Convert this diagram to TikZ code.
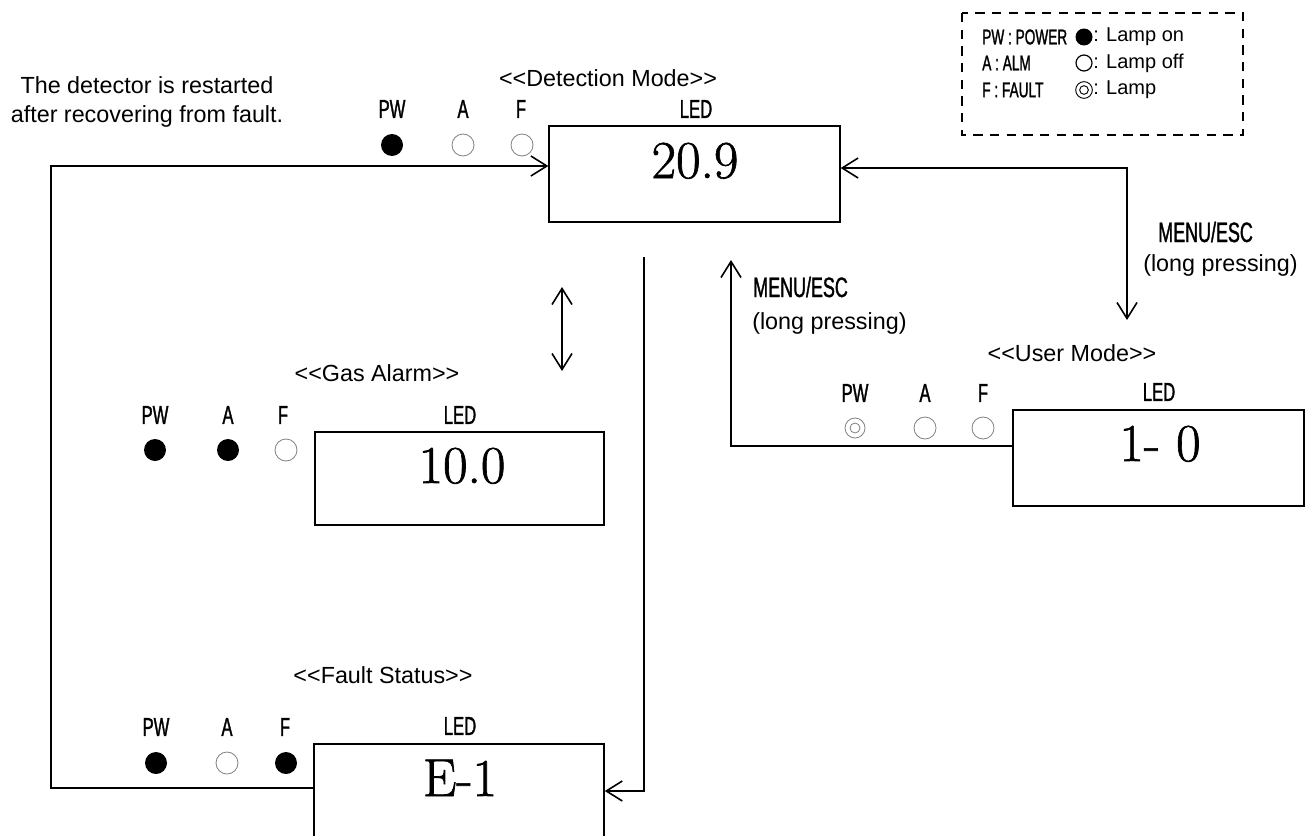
\documentclass[tikz,border=0pt]{standalone}
\usepackage{fontspec}
\setsansfont{Liberation Sans}
\newfontfamily\narrowfont[FakeStretch=0.64,FakeBold=1.2]{Liberation Sans}
\newfontfamily\digitfont[FakeBold=1.2]{Latin Modern Roman}
\usetikzlibrary{arrows.meta}
\newcommand{\modetitle}[1]{<\kern0pt<#1>\kern0pt>}

\begin{document}
\begin{tikzpicture}[x=0.75pt, y=-0.75pt,
  every node/.style={inner sep=0pt},
  >={Straight Barb[length=12pt,width=15pt]},
  tag/.style={font=\narrowfont\fontsize{19.5}{22}\selectfont},
  title/.style={font=\sffamily\fontsize{17.5}{21}\selectfont},
  value/.style={font=\digitfont\fontsize{40}{44}\selectfont, anchor=base},
  ledbox/.style={draw, line width=1.2pt, minimum width=218pt, minimum height=72pt},
  lamp on/.style={circle, fill=black, minimum size=16.5pt},
  lamp off/.style={circle, draw=gray, line width=0.6pt, minimum size=16.5pt},
  wire/.style={line width=1.2pt}]
\useasboundingbox (0,0) rectangle (1316,835);
\clip (0,0) rectangle (1316,835);

% legend
\draw[line width=2pt, dash pattern=on 7pt off 5.5pt] (962,13) rectangle (1243,135);
\node[tag, anchor=west, font=\narrowfont\fontsize{16}{19}\selectfont] (kpw) at (982,37) {PW : POWER};
\node[tag, anchor=west, font=\narrowfont\fontsize{16}{19}\selectfont] (ka) at (982,63) {A : ALM};
\node[tag, anchor=west, font=\narrowfont\fontsize{16}{19}\selectfont] (kf) at (982,90) {F : FAULT};
\node[lamp on, minimum size=12.75pt] (kon) at (1084,37) {};
\node[circle, draw, line width=0.9pt, minimum size=12pt] (koff) at (1084,63) {};
\node[circle, draw, line width=0.7pt, minimum size=12.5pt] (kdim) at (1084,90) {};
\node[circle, draw, line width=0.7pt, minimum size=6.5pt] (kdim2) at (kdim) {};
\node[title, anchor=west, font=\sffamily\fontsize{15}{18}\selectfont] (ton) at (1093,37) {: Lamp on};
\node[title, anchor=west, font=\sffamily\fontsize{15}{18}\selectfont] (toff) at (1093,63) {: Lamp off};
\node[title, anchor=west, font=\sffamily\fontsize{15}{18}\selectfont] (tdim) at (1093,90) {: Lamp};

\node[title, align=center, font=\sffamily\fontsize{17.5}{21.75}\selectfont] (note) at (147,102) {The detector is restarted\\after recovering from fault.};

% detection mode
\node[title] (dett) at (608,78) {\modetitle{Detection Mode}};
\node[ledbox] (det) at (694.5,174) {};
\node[value] (detv) at (695,178) {20.9};
\node[tag] (detl) at (696,109) {LED};
\foreach \n/\x in {PW/392, A/463, F/521} \node[tag] (det\n) at (\x,109) {\n};
\node[lamp on] (detp) at (392,145) {};
\node[lamp off] (deta) at (463,145) {};
\node[lamp off] (detf) at (522,145) {};

% gas alarm
\node[title] (gast) at (377,373) {\modetitle{Gas Alarm}};
\node[ledbox, minimum width=216.75pt, minimum height=69.75pt] (gas) at (459.5,478.5) {};
\node[value] (gasv) at (462,483) {10.0};
\node[tag] (gasl) at (460,415) {LED};
\foreach \n/\x in {PW/155, A/228, F/283} \node[tag] (gas\n) at (\x,415) {\n};
\node[lamp on] (gasp) at (155,450) {};
\node[lamp on] (gasa) at (228,450) {};
\node[lamp off] (gasf) at (286,450) {};

% fault status
\node[title] (fltt) at (383,675) {\modetitle{Fault Status}};
\node[ledbox, minimum width=217.5pt, minimum height=79.5pt] (flt) at (459,797) {};
\node[value] (fltv) at (460,796) {E-1};
\node[tag] (fltl) at (460,726) {LED};
\foreach \n/\x in {PW/156, A/227, F/285} \node[tag] (flt\n) at (\x,727) {\n};
\node[lamp on] (fltp) at (156,763) {};
\node[lamp off] (flta) at (227,763) {};
\node[lamp on] (fltf) at (286,763) {};

% user mode
\node[title] (usrt) at (1072,353) {\modetitle{User Mode}};
\node[ledbox] (usr) at (1158.5,458) {};
\node[value] (usrv) at (1160,461) {1- 0};
\node[tag] (usrl) at (1159,392) {LED};
\foreach \n/\x in {PW/855, A/925, F/983} \node[tag] (usr\n) at (\x,393) {\n};
\node[lamp off, minimum size=15pt] (usrp) at (855,428) {};
\node[lamp off, minimum size=7.5pt] (usrp2) at (usrp) {};
\node[lamp off] (usra) at (925,428) {};
\node[lamp off] (usrf) at (983,428) {};

% keys
\node[tag, anchor=west, font=\narrowfont\fontsize{21}{24}\selectfont] (mr) at (1158,232) {MENU/ESC};
\node[title, anchor=west] (lr) at (1143,265) {(long pressing)};
\node[tag, anchor=west, font=\narrowfont\fontsize{21}{24}\selectfont] (ml) at (753,287) {MENU/ESC};
\node[title, anchor=west] (ll) at (752,323) {(long pressing)};

% connectors
\coordinate (c1) at (51,788);
\coordinate (c2) at (51,166);
\draw[wire,->] (flt.west |- c1) -- (c1) -- (c2) -- (det.west |- c2);
\coordinate (c3) at (1127,168);
\coordinate (c4) at (1127,320);
\draw[wire,<->] (det.east |- c3) -- (c3) -- (c4);
\coordinate (c5) at (731,446);
\coordinate (c6) at (731,260);
\draw[wire,->] (usr.west |- c5) -- (c5) -- (c6);
\coordinate (c7) at (644,257);
\coordinate (c8) at (644,791);
\draw[wire,->] (c7) -- (c8) -- (flt.east |- c8);
\coordinate (c9) at (562,287);
\coordinate (c10) at (562,371);
\draw[wire,<->] (c9) -- (c10);
\end{tikzpicture}
\end{document}
